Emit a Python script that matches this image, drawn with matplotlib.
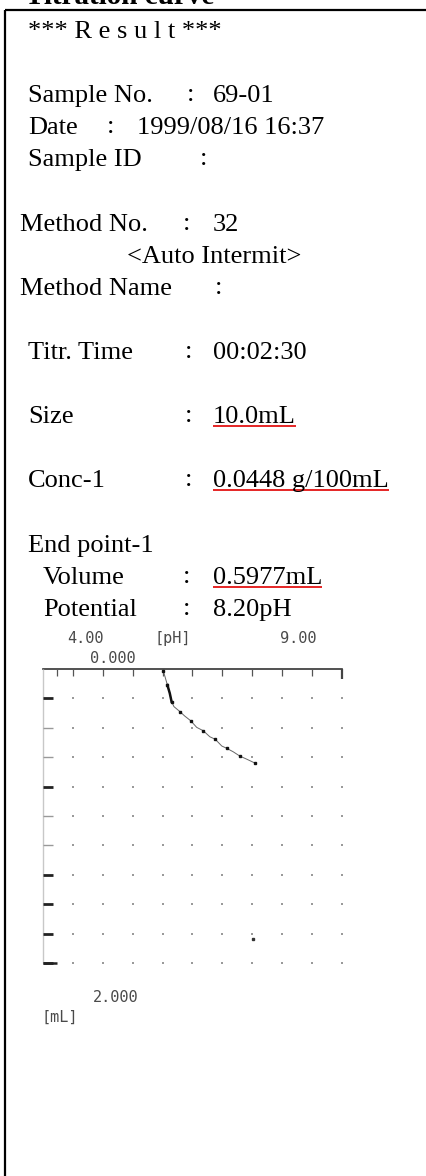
import numpy as np
import matplotlib.pyplot as plt

# ---- report text ----
title = "Titration curve"
header = "*** R e s u l t ***"

field_labels = ["Sample No.", "Date", "Sample ID", "Method No.", "<Auto Intermit>",
                "Method Name", "Titr. Time", "Size", "Conc-1", "End point-1",
                "Volume", "Potential"]
field_values = ["69-01", "1999/08/16 16:37", "", "32", None,
                "", "00:02:30", "10.0mL", "0.0448 g/100mL", None,
                "0.5977mL", "8.20pH"]
underlined = ["10.0mL", "0.0448 g/100mL", "0.5977mL"]

# ---- titration curve (pH on top axis, volume downwards) ----
ph_min, ph_max = 4.00, 9.00
ml_min, ml_max = 0.000, 2.000
curve_ph = [6.01, 6.04, 6.08, 6.12, 6.15, 6.19, 6.29, 6.37, 6.47, 6.57,
            6.68, 6.79, 6.88, 6.99, 7.07, 7.18, 7.29, 7.41, 7.55]
curve_ml = [0.012, 0.052, 0.109, 0.165, 0.222, 0.256, 0.290, 0.320, 0.352, 0.397,
            0.420, 0.461, 0.478, 0.524, 0.539, 0.563, 0.592, 0.614, 0.641]
stray_ph = [7.51]
stray_ml = [1.84]

W, H = 427, 1176
fig = plt.figure(figsize=(W / 100, H / 100), dpi=100)
page = fig.add_axes([0, 0, 1, 1])
page.set_xlim(0, W)
page.set_ylim(H, 0)
page.axis('off')

serif = "Liberation Serif"
fs = 19

# frame
page.plot([5.5, 5.5], [10, H + 5], color='black', lw=1.6, solid_capstyle='butt')
page.plot([4.7, W + 5], [10, 10], color='black', lw=1.6, solid_capstyle='butt')

page.text(25, 4, title, family=serif, fontsize=21, fontweight='bold', va='baseline')

def base(i):
    return 38 + 32.1 * i

page.text(28, base(0), header, family=serif, fontsize=fs, va='baseline')

# (line, label x, colon x, value x)
layout = [(2, 28, 187, 213), (3, 28, 107, 137), (4, 28, 200, 230), (6, 20, 183, 213),
          (7, 127, None, None), (8, 20, 215, 240), (10, 28, 185, 213), (12, 28, 185, 213),
          (14, 28, 185, 213), (16, 28, None, None), (17, 43, 183, 213), (18, 43, 183, 213)]

value_texts = []
for (line, lx, cx, vx), lab, val in zip(layout, field_labels, field_values):
    y = base(line)
    page.text(lx, y, lab, family=serif, fontsize=fs, va='baseline')
    if cx is not None:
        page.text(cx, y - 1, ":", family=serif, fontsize=fs, va='baseline')
    if val:
        t = page.text(vx, y, val, family=serif, fontsize=fs, va='baseline')
        if val in underlined:
            value_texts.append((t, y))

fig.canvas.draw()
inv = page.transData.inverted()
for t, y in value_texts:
    bb = t.get_window_extent()
    x0, _ = inv.transform((bb.x0, 0))
    x1, _ = inv.transform((bb.x1, 0))
    page.plot([x0, x1], [y + 3, y + 3], color='#e00000', lw=1.2, solid_capstyle='butt')

# ---- chart ----
x0p, x1p, y0p, y1p = 43, 342, 669, 963
ax = fig.add_axes([x0p / W, 1 - y1p / H, (x1p - x0p) / W, (y1p - y0p) / H])
ax.set_xlim(ph_min, ph_max)
ax.set_ylim(ml_max, ml_min)
ax.axis('off')

cols = np.linspace(ph_min, ph_max, 11)
rows = np.linspace(ml_min, ml_max, 11)

# grid dots
gx, gy = np.meshgrid(cols[1:], rows[1:])
ax.scatter(gx.ravel(), gy.ravel(), s=2.5, color='#9a9a9a', marker='s', lw=0, clip_on=False)

# top axis with ticks
ax.plot([ph_min, ph_max], [0, 0], color='#333333', lw=1.2, clip_on=False)
ax.vlines(list(cols[1:-1]) + [4.23], 0, 0.05, color='#555555', lw=0.9, clip_on=False)
ax.vlines(ph_max, 0, 0.07, color='#444444', lw=1.6, clip_on=False)

# left axis with ticks
ax.vlines(ph_min, 0, ml_max, color='#c8c8c8', lw=1.0, clip_on=False)
for k, r in enumerate(rows[1:]):
    dark = k % 3 == 0 or k >= 7
    ax.hlines(r, ph_min, ph_min + 0.17, color='#222222' if dark else '#999999',
              lw=2.0 if dark else 1.0, clip_on=False)
ax.hlines(ml_max, ph_min, ph_min + 0.23, color='#222222', lw=1.8, clip_on=False)

# curve
ax.plot(curve_ph, curve_ml, color='#666666', lw=0.7, clip_on=False)
ax.plot(curve_ph[::2], curve_ml[::2], ls='none', marker='s', ms=1.6, color='#111111', clip_on=False)
ax.plot(curve_ph[2:5], curve_ml[2:5], color='#111111', lw=1.8, clip_on=False)
ax.plot(stray_ph, stray_ml, ls='none', marker='s', ms=2, color='#333333', clip_on=False)

# axis labels (printer style)
mono = "DejaVu Sans Mono"
lc = '#4a4a4a'
page.text(67, 643, f"{ph_min:.2f}", family=mono, fontsize=11, color=lc, va='baseline')
page.text(155, 643, "[pH]", family=mono, fontsize=11, color=lc, va='baseline')
page.text(280, 643, f"{ph_max:.2f}", family=mono, fontsize=11, color=lc, va='baseline')
page.text(90, 663, f"{ml_min:.3f}", family=mono, fontsize=11, color=lc, va='baseline')
page.text(93, 1002, f"{ml_max:.3f}", family=mono, fontsize=11, color=lc, va='baseline')
page.text(42, 1022, "[mL]", family=mono, fontsize=11, color=lc, va='baseline')

fig.savefig("out.png", dpi=100)
